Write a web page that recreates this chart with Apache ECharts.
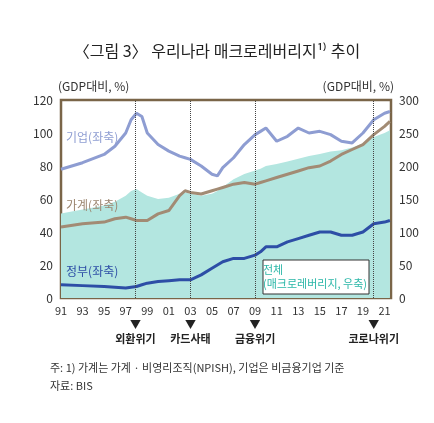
<!DOCTYPE html><html><head><meta charset="utf-8"><script src="https://cdn.jsdelivr.net/npm/echarts@6/dist/echarts.min.js"></script>
<style>body{margin:0;background:#fff}#c{width:434px;height:423px}</style></head><body><div id="c"></div><script>
const years=[1991,1993,1995,1996,1997,1997.5,1998,1998.5,1999,2000,2001,2002,2002.5,2003,2004,2005,2005.5,2006,2007,2008,2009,2009.5,2010,2011,2012,2013,2014,2015,2016,2017,2018,2019,2020,2021,2021.5];
const corp=[78,82,87,92,100,108,112,110,100,93,89,86,85,84,80,75,74,79,85,93,99,101,103,95,98,103,100,101,99,95,94,100,108,112,113];
const household=[43,45,46,48,49,48,47,47,47,51,53,62,65,64,63,65,66,67,69,70,69,70,71,73,75,77,79,80,83,87,90,93,99,104,107];
const gov=[8,7.5,7,6.5,6,6.5,7,8,9,10,10.5,11,11,11,14,18,20,22,24,24,26,28,31,31,34,36,38,40,40,38,38,40,45,46,47];
const total=[128,134,140,146,155,162,165,160,155,150,152,158,160,158,155,158,162,168,180,188,193,196,200,203,207,211,215,218,222,224,228,234,244,250,254];
const crises=[[1997.9,'외환위기'],[2003,'카드사태'],[2009,'금융위기'],[2020,'코로나위기']];
const c=echarts.init(document.getElementById('c'));
const z=a=>years.map((y,i)=>[y,a[i]]);
const F='Noto Sans CJK KR';
c.setOption({animation:false,textStyle:{fontFamily:F},
title:{text:'〈그림 3〉 우리나라 매크로레버리지¹⁾ 추이',left:'center',top:38,textStyle:{fontSize:16,fontWeight:'normal',color:'#222',fontFamily:F}},
grid:{left:61,right:43,top:100,bottom:125,show:true,borderColor:'#7a6548',borderWidth:2.5},
xAxis:{type:'value',min:1991,max:2021.6,interval:2,axisLine:{show:false},axisTick:{show:false},splitLine:{show:false},
 axisLabel:{color:'#333',fontSize:11,margin:7,formatter:v=>(v>2021.1?'':String(v%100).padStart(2,'0'))}},
yAxis:[{type:'value',min:0,max:120,interval:20,axisLine:{show:false},axisTick:{show:false},splitLine:{show:false},axisLabel:{color:'#333',fontSize:12}},
 {type:'value',min:0,max:300,interval:50,axisLine:{show:false},axisTick:{show:false},splitLine:{show:false},axisLabel:{color:'#333',fontSize:12}}],
series:[
{type:'line',yAxisIndex:1,data:z(total),symbol:'none',lineStyle:{width:0},areaStyle:{color:'#b3e6e0',opacity:1},z:1,
 markLine:{silent:true,symbol:'none',lineStyle:{type:'dotted',color:'#444',width:1},
  label:{position:'start',distance:20,formatter:p=>'▼\n'+p.name,color:'#222',fontSize:11,fontWeight:'bold',lineHeight:14},
  data:crises.map(d=>({xAxis:d[0],name:d[1]}))}},
{type:'line',data:z(corp),symbol:'none',lineStyle:{color:'#8e9dd2',width:3},z:3},
{type:'line',data:z(household),symbol:'none',lineStyle:{color:'#a28b74',width:3},z:3},
{type:'line',data:z(gov),symbol:'none',lineStyle:{color:'#2d4ea6',width:3},z:3}],
graphic:[
{type:'text',z:100,left:58,top:80,style:{text:'(GDP대비, %)',fontSize:12,fill:'#333',fontFamily:F}},
{type:'text',z:100,right:40,top:80,style:{text:'(GDP대비, %)',fontSize:12,fill:'#333',fontFamily:F}},
{type:'text',z:100,left:66,top:131,style:{text:'기업(좌축)',fontSize:12,fill:'#8e9dd2',fontFamily:F}},
{type:'text',z:100,left:66,top:199,style:{text:'가계(좌축)',fontSize:12,fill:'#9c8670',fontFamily:F}},
{type:'text',z:100,left:66,top:265,style:{text:'정부(좌축)',fontSize:12,fill:'#2d4ea6',fontFamily:F}},
{type:'rect',z:100,shape:{x:263,y:260,width:106,height:34},style:{fill:'#fff',stroke:'#333',lineWidth:1}},
{type:'text',z:101,left:263,top:263,style:{text:'전체\n(매크로레버리지, 우축)',width:106,align:'center',x:316,fontSize:11,lineHeight:14,fill:'#2bb7a8',fontFamily:F}},
{type:'text',z:100,left:50,top:362,style:{text:'주: 1) 가계는 가계 · 비영리조직(NPISH), 기업은 비금융기업 기준',fontSize:11,fill:'#333',fontFamily:F}},
{type:'text',z:100,left:50,top:380,style:{text:'자료: BIS',fontSize:11,fill:'#333',fontFamily:F}}
]});
</script></body></html>
